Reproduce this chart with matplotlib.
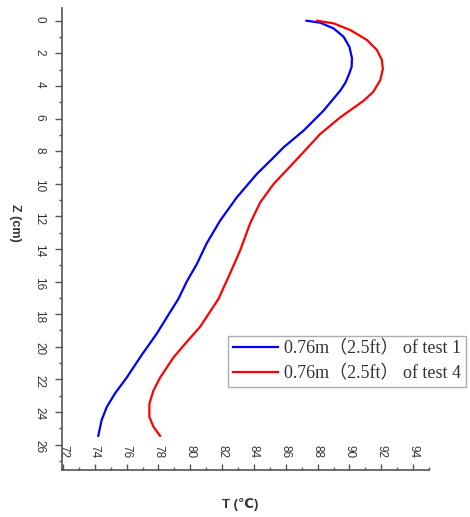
import matplotlib
matplotlib.use("Agg")
import matplotlib.pyplot as plt
from matplotlib.ticker import MultipleLocator

# depth (cm) and temperature (C)
z_test1 = [0, 0.12, 0.47, 0.98, 1.6, 2.3, 2.82, 3.27, 3.8, 4.29, 5.52, 6.75, 7.77, 8.49,
           9.4, 10.84, 12.27, 13.66, 14.93, 16.0, 17.07, 17.88, 19.2, 20.5, 21.9,
           22.86, 23.7, 24.5, 25.46]
t_test1 = [87.3, 88.16, 89.0, 89.63, 90.0, 90.16, 90.14, 89.98, 89.75, 89.42, 88.37, 87.11,
           85.86, 85.13, 84.18, 82.92, 81.87, 81.03, 80.41, 79.78, 79.25, 78.73, 77.89,
           76.95, 76.0, 75.27, 74.75, 74.43, 74.22]

z_test4 = [0, 0.16, 0.57, 1.18, 1.8, 2.41, 2.96, 3.64, 4.36, 4.91, 5.93, 6.95, 8.39,
           10.02, 11.15, 12.43, 14.1, 15.5, 17.07, 18.8, 19.7, 20.66, 21.9, 22.7, 23.5,
           24.3, 24.9, 25.46]
t_test4 = [87.96, 89.0, 90.05, 91.1, 91.73, 92.04, 92.1, 91.94, 91.5, 90.89, 89.42,
           88.16, 86.8, 85.23, 84.39, 83.76, 83.13, 82.5, 81.77, 80.6, 79.78, 78.94,
           78.1, 77.68, 77.43, 77.43, 77.68, 78.1]

legend_labels = ["0.76m（2.5ft） of test 1", "0.76m（2.5ft） of test 4"]
x_ticks = list(range(72, 95, 2))
y_ticks = list(range(0, 27, 2))

fig = plt.figure(figsize=(4.7, 5.17), dpi=100)
ax = fig.add_axes([62 / 470, 1 - 470 / 517, 367 / 470, 462 / 517])

ax.plot(t_test1, z_test1, color="#0000ff", lw=1.6, label=legend_labels[0])
ax.plot(t_test4, z_test4, color="#ff0000", lw=1.6, label=legend_labels[1])

ax.set_xlim(71.94, 95.0)
ax.set_ylim(27.56, -0.78)

for side in ["top", "right"]:
    ax.spines[side].set_visible(False)
for side in ["left", "bottom"]:
    ax.spines[side].set_color("#555555")
    ax.spines[side].set_linewidth(1.2)

ax.set_xticks(x_ticks)
ax.set_yticks(y_ticks)
ax.xaxis.set_minor_locator(MultipleLocator(1))
ax.yaxis.set_minor_locator(MultipleLocator(1))

ax.tick_params(axis="y", which="major", direction="out", length=5, width=1,
               color="#555555", labelsize=8.5, labelcolor="#333333", pad=7,
               labelrotation=-90)
ax.tick_params(axis="y", which="minor", direction="out", length=2.5, width=1,
               color="#555555")
ax.tick_params(axis="x", which="major", direction="in", length=4, width=1,
               color="#555555", labelsize=8.5, labelcolor="#333333", pad=-8.5,
               labelrotation=-90)
ax.tick_params(axis="x", which="minor", direction="in", length=2, width=1,
               color="#555555")

for lab in ax.get_xticklabels():
    lab.set_va("bottom")
    lab.set_fontfamily("Liberation Sans")
for lab in ax.get_yticklabels():
    lab.set_fontfamily("Liberation Sans")

ax.set_ylabel("Z (cm)", rotation=-90, fontsize=9, fontweight="bold",
              family="Liberation Sans", color="#333333", va="center", ha="center")
ax.yaxis.set_label_coords(-0.128, 0.535)
ax.set_xlabel("T (℃)", fontsize=9.5, fontweight="bold",
              family=["Liberation Sans", "DejaVu Sans"], color="#333333",
              va="center", ha="center")
ax.xaxis.set_label_coords(0.485, -0.074)

leg = ax.legend(loc="upper left", bbox_to_anchor=(228 / 470, 1 - 336 / 517),
                bbox_transform=fig.transFigure, frameon=True, fancybox=False,
                borderpad=0.25, borderaxespad=0, handlelength=2.5,
                handletextpad=0.35, labelspacing=0.4,
                prop={"family": ["Liberation Serif", "Noto Sans CJK SC"], "size": 13})
leg.get_frame().set_edgecolor("#999999")
leg.get_frame().set_linewidth(1.0)
for txt in leg.get_texts():
    txt.set_color("#333333")

fig.savefig("out.png", dpi=100)
